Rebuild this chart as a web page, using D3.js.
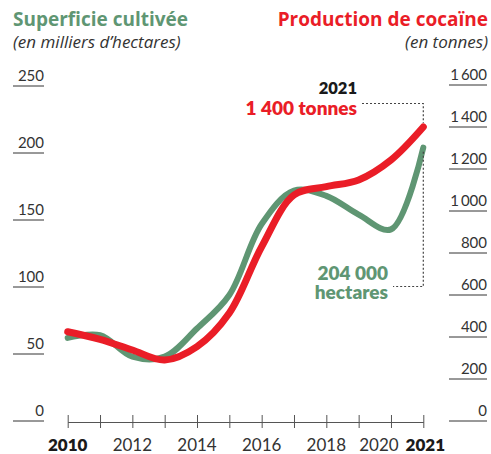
<!DOCTYPE html>
<html>
<head>
<meta charset="utf-8">
<script src="https://cdn.jsdelivr.net/npm/d3@7"></script>
<style>
  body { margin: 0; background: #fff; }
  svg { font-family: Lato, "Open Sans", sans-serif; }
</style>
</head>
<body>
<div id="chart"></div>
<script>
// data
const years = [2010, 2011, 2012, 2013, 2014, 2015, 2016, 2017, 2018, 2019, 2020, 2021];
const superficie = [62, 64, 48, 48, 69, 94, 147, 172, 168, 154, 143, 204];   // milliers d'hectares
const production = [425, 389, 338, 290, 354, 514, 830, 1076, 1116, 1148, 1243, 1400]; // tonnes
const leftTicks = [0, 50, 100, 150, 200, 250];
const rightTicks = [0, 200, 400, 600, 800, 1000, 1200, 1400, 1600];
const yearLabels = [2010, 2012, 2014, 2016, 2018, 2020, 2021];
const boldYears = [2010, 2021];

const width = 491, height = 454;
const green = "#5f9673", red = "#ea1d27", ink = "#333";

const svg = d3.select("#chart").append("svg")
    .attr("width", width)
    .attr("height", height);

const x = d3.scaleLinear().domain([2010, 2021]).range([67.7, 423.3]);
const yL = d3.scaleLinear().domain([0, 250]).range([421, 86]);
const yR = d3.scaleLinear().domain([0, 1600]).range([421, 85]);

// ─── TITLES ───
svg.append("text").attr("x", 13).attr("y", 26)
    .attr("font-family", "'Open Sans', sans-serif")
    .attr("font-size", 19).attr("font-weight", 700).attr("fill", green)
    .text("Superficie cultivée");
svg.append("text").attr("x", 13).attr("y", 48)
    .attr("font-family", "'Open Sans', sans-serif")
    .attr("font-size", 17).attr("font-style", "italic").attr("fill", ink)
    .text("(en milliers d’hectares)");
svg.append("text").attr("x", 488).attr("y", 26).attr("text-anchor", "end")
    .attr("font-family", "'Open Sans', sans-serif")
    .attr("font-size", 19).attr("font-weight", 700).attr("fill", red)
    .text("Production de cocaïne");
svg.append("text").attr("x", 488).attr("y", 48).attr("text-anchor", "end")
    .attr("font-family", "'Open Sans', sans-serif")
    .attr("font-size", 17).attr("font-style", "italic").attr("fill", ink)
    .text("(en tonnes)");

// ─── LEFT AXIS (underlined labels) ───
const fmt = d => d3.format(",")(d).replace(/,/g, "\u2009");
const left = svg.append("g").selectAll("g").data(leftTicks).join("g")
    .attr("transform", d => `translate(0,${yL(d)})`);
left.append("line").attr("x1", 13).attr("x2", 44).attr("stroke", ink).attr("stroke-width", 1);
left.append("text").attr("x", 44).attr("y", -5).attr("text-anchor", "end")
    .attr("font-size", 15).attr("fill", ink).text(d => d);

// ─── RIGHT AXIS ───
const right = svg.append("g").selectAll("g").data(rightTicks).join("g")
    .attr("transform", d => `translate(0,${yR(d)})`);
right.append("line").attr("x1", 449).attr("x2", 487).attr("stroke", ink).attr("stroke-width", 1);
right.append("text").attr("x", 487).attr("y", -5).attr("text-anchor", "end")
    .attr("font-size", 15).attr("fill", ink).text(d => fmt(d));

// ─── X AXIS ───
const xAxis = svg.append("g").attr("transform", "translate(0,422)")
    .call(d3.axisBottom(x).tickValues(years).tickSize(6).tickSizeOuter(0).tickFormat(""));
xAxis.select(".domain").attr("stroke", "#555");
xAxis.selectAll(".tick line").attr("stroke", "#555").attr("y1", -7).attr("y2", 6);

svg.append("g").selectAll("text").data(yearLabels).join("text")
    .attr("x", d => x(d) + (d === 2020 ? -12 : d === 2021 ? 2 : 0))
    .attr("y", 451)
    .attr("text-anchor", "middle")
    .attr("font-size", 17)
    .attr("font-weight", d => boldYears.includes(d) ? 800 : 400)
    .attr("fill", d => boldYears.includes(d) ? "#1a1a1a" : ink)
    .text(d => d);

// ─── LINES ───
const lineL = d3.line().x((d, i) => x(years[i])).y(d => yL(d)).curve(d3.curveCatmullRom.alpha(0.5));
const lineR = d3.line().x((d, i) => x(years[i])).y(d => yR(d)).curve(d3.curveCatmullRom.alpha(0.5));

svg.append("path").datum(superficie)
    .attr("d", lineL).attr("fill", "none")
    .attr("stroke", green).attr("stroke-width", 6).attr("stroke-linecap", "round");
svg.append("path").datum(production)
    .attr("d", lineR).attr("fill", "none")
    .attr("stroke", red).attr("stroke-width", 7).attr("stroke-linecap", "round");

// ─── ANNOTATIONS ───
const last = years.length - 1;
const xe = x(years[last]);
const dotted = svg.append("g").attr("fill", "none").attr("stroke", "#444")
    .attr("stroke-width", 1.2).attr("stroke-dasharray", "2,2");
dotted.append("path").attr("d", `M362,103.5H${xe}V${yR(production[last]) - 4}`);
dotted.append("path").attr("d", `M${xe},${yL(superficie[last]) + 4}V286.5H393`);

const big = d3.format(",");
svg.append("text").attr("x", 357).attr("y", 94).attr("text-anchor", "end")
    .attr("font-size", 16.5).attr("font-weight", 800).attr("fill", "#1a1a1a").text("2021");
svg.append("text").attr("x", 357).attr("y", 115).attr("text-anchor", "end")
    .attr("font-size", 19).attr("font-weight", 800).attr("fill", red)
    .text(big(production[last]).replace(/,/g, " ") + " tonnes");
svg.append("text").attr("x", 388).attr("y", 280).attr("text-anchor", "end")
    .attr("font-size", 19).attr("font-weight", 800).attr("fill", green)
    .text(big(superficie[last] * 1000).replace(/,/g, " "));
svg.append("text").attr("x", 388).attr("y", 299).attr("text-anchor", "end")
    .attr("font-size", 19).attr("font-weight", 800).attr("fill", green)
    .text("hectares");
</script>
</body>
</html>
